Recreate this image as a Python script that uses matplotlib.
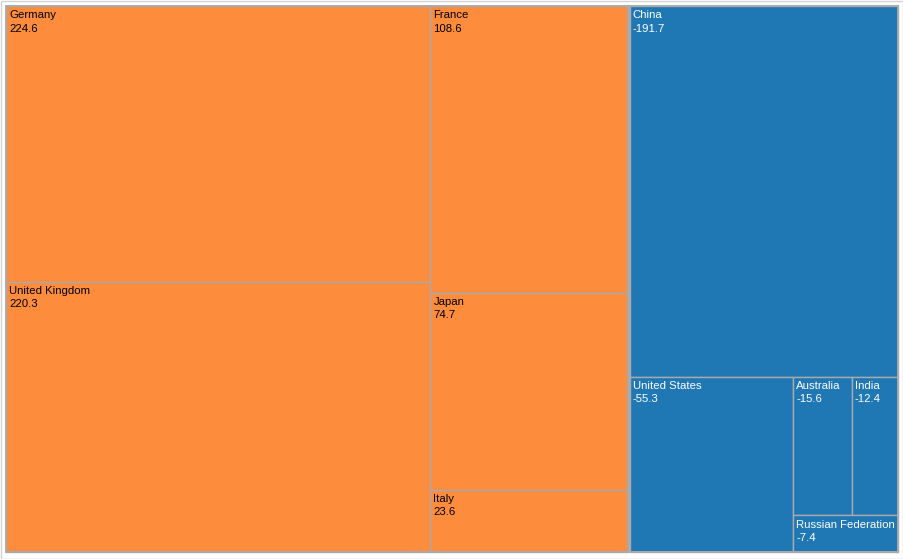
import matplotlib
matplotlib.use("Agg")
import matplotlib.pyplot as plt
from matplotlib.patches import Rectangle

countries = ["Germany", "United Kingdom", "France", "Japan", "Italy",
             "China", "United States", "Australia", "India", "Russian Federation"]
balances = [224.6, 220.3, 108.6, 74.7, 23.6,
            -191.7, -55.3, -15.6, -12.4, -7.4]

pos_color = "#fd8c3c"
neg_color = "#1f77b4"
edge_color = "#aaaaaa"

PHI = (1 + 5 ** 0.5) / 2


def squarify(values, x0, y0, x1, y1, ratio=PHI):
    # squarified layout (same steps as d3.treemapSquarify), values sorted desc
    rects = [None] * len(values)
    total = float(sum(values))
    n = len(values)
    i0 = 0
    while i0 < n:
        dx, dy = x1 - x0, y1 - y0
        i1 = i0
        s = values[i1]
        i1 += 1
        vmin = vmax = s
        alpha = max(dy / dx, dx / dy) / (total * ratio)
        beta = s * s * alpha
        best = max(vmax / beta, beta / vmin)
        while i1 < n:
            v = values[i1]
            s2 = s + v
            mn, mx = min(vmin, v), max(vmax, v)
            beta = s2 * s2 * alpha
            r = max(mx / beta, beta / mn)
            if r > best:
                break
            s, vmin, vmax, best = s2, mn, mx, r
            i1 += 1
        if dx < dy:
            h = dy * s / total
            x = x0
            for k in range(i0, i1):
                w = dx * values[k] / s
                rects[k] = (x, y0, x + w, y0 + h)
                x += w
            y0 += h
        else:
            w = dx * s / total
            y = y0
            for k in range(i0, i1):
                h = dy * values[k] / s
                rects[k] = (x0, y, x0 + w, y + h)
                y += h
            x0 += w
        total -= s
        i0 = i1
    return rects


fig = plt.figure(figsize=(9.04, 5.59), dpi=100)
ax = fig.add_axes([0, 0, 1, 1])
ax.set_xlim(0, 904)
ax.set_ylim(559, 0)
ax.axis("off")

# outer frame of the chart
ax.add_patch(Rectangle((0.5, 0.5), 903, 558, fill=False, edgecolor="#d4d4d4", lw=1.0))

groups = [
    [i for i, b in enumerate(balances) if b > 0],
    [i for i, b in enumerate(balances) if b < 0],
]
for g in groups:
    g.sort(key=lambda i: -abs(balances[i]))
groups.sort(key=lambda g: -sum(abs(balances[i]) for i in g))

group_vals = [sum(abs(balances[i]) for i in g) for g in groups]
group_rects = squarify(group_vals, 5, 5, 899, 553)

pad = 1.0
for g, (gx0, gy0, gx1, gy1) in zip(groups, group_rects):
    gx0, gy0, gx1, gy1 = gx0 + pad, gy0 + pad, gx1 - pad, gy1 - pad
    vals = [abs(balances[i]) for i in g]
    rects = squarify(vals, gx0, gy0, gx1, gy1)
    for i, (x0, y0, x1, y1) in zip(g, rects):
        b = balances[i]
        fc = pos_color if b > 0 else neg_color
        tc = "black" if b > 0 else "white"
        ax.add_patch(Rectangle((x0, y0), x1 - x0, y1 - y0, facecolor=fc,
                               edgecolor=edge_color, lw=1.0))
        ax.text(x0 + 3, y0 + 4.5, "%s\n%.1f" % (countries[i], b), color=tc,
                fontsize=8.2, family="Liberation Sans", va="top", ha="left",
                linespacing=1.4)
    ax.add_patch(Rectangle((gx0, gy0), gx1 - gx0, gy1 - gy0, fill=False,
                           edgecolor=edge_color, lw=1.4))

fig.savefig("out.png", dpi=100, facecolor="white")
